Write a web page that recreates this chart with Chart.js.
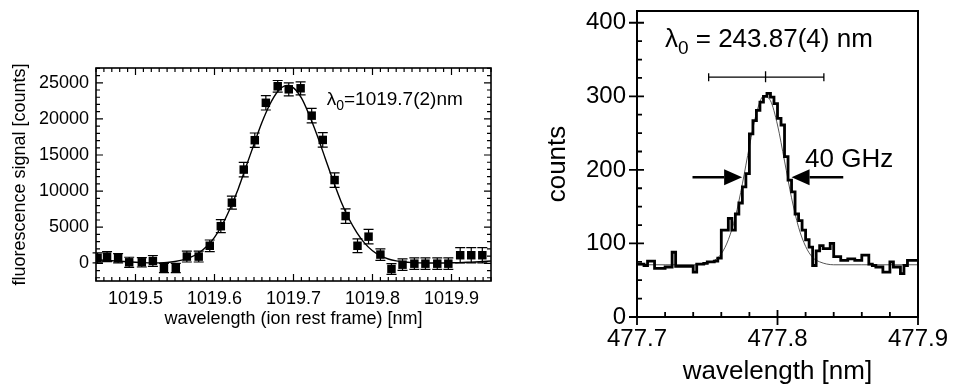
<!DOCTYPE html>
<html>
<head>
<meta charset="utf-8">
<script src="https://cdn.jsdelivr.net/npm/chart.js@4.4.0/dist/chart.umd.min.js"></script>
<style>
  html, body { margin: 0; padding: 0; background: #fff; }
  #wrap { position: relative; width: 955px; height: 390px; overflow: hidden; }
  canvas { position: absolute; top: 0; }
</style>
</head>
<body>
<div id="wrap">
  <canvas id="left" width="520" height="390" style="left:0"></canvas>
  <canvas id="right" width="415" height="390" style="left:540px"></canvas>
</div>
<script>
// ---------- left panel: fluorescence scan ----------
const leftX = [1019.452, 1019.464, 1019.478, 1019.492, 1019.508, 1019.522, 1019.536, 1019.551, 1019.565, 1019.580,
               1019.594, 1019.608, 1019.622, 1019.637, 1019.651, 1019.665, 1019.680, 1019.694, 1019.709, 1019.723,
               1019.737, 1019.752, 1019.766, 1019.781, 1019.795, 1019.810, 1019.824, 1019.838, 1019.853, 1019.867,
               1019.882, 1019.896, 1019.911, 1019.925, 1019.939];
const leftY = [750, 930, 700, 140, 140, 330, -650, -650, 930, 930,
               2430, 5140, 8400, 12980, 17050, 22230, 24520, 24100, 24240, 20450,
               17090, 11530, 6540, 2430, 3690, 1210, -790, -190, -50, -50,
               -50, -50, 1120, 1120, 1120];
const leftErr = [700, 700, 650, 700, 650, 750, 650, 650, 750, 750,
                 800, 900, 900, 1000, 1000, 1000, 800, 900, 900, 1000,
                 1000, 1000, 1000, 950, 1000, 800, 750, 800, 800, 800,
                 800, 800, 1050, 1050, 1050];
const leftFitX = [1019.45, 1019.46, 1019.47, 1019.48, 1019.49, 1019.50, 1019.51, 1019.52, 1019.53, 1019.54,
                  1019.55, 1019.56, 1019.57, 1019.58, 1019.59, 1019.60, 1019.61, 1019.62, 1019.63, 1019.64,
                  1019.65, 1019.66, 1019.67, 1019.68, 1019.69, 1019.70, 1019.71, 1019.72, 1019.73, 1019.74,
                  1019.75, 1019.76, 1019.77, 1019.78, 1019.79, 1019.80, 1019.81, 1019.82, 1019.83, 1019.84,
                  1019.85, 1019.86, 1019.87, 1019.88, 1019.89, 1019.90, 1019.91, 1019.92, 1019.93, 1019.94, 1019.95];
const leftFitY = [500, 430, 360, 290, 220, 150, 90, 50, 60, 110,
                  250, 480, 850, 1430, 2330, 3600, 5370, 7660, 10300, 13400,
                  16500, 19500, 22000, 23800, 24600, 24300, 22900, 20500, 17700, 14600,
                  11500, 8600, 6200, 4300, 2800, 1750, 1050, 600, 330, 180,
                  100, 60, 40, 40, 50, 70, 100, 140, 190, 250, 310];
const leftXTicks = [1019.5, 1019.6, 1019.7, 1019.8, 1019.9];
const leftYTicks = [0, 5000, 10000, 15000, 20000, 25000];

// ---------- right panel: counts histogram ----------
const histStart = 477.70;
const histWidth = 0.0025;
const histCounts = [72, 72, 70, 76, 76, 66, 66, 66, 68, 68,
                    88, 69, 69, 69, 69, 69, 61, 72, 72, 73,
                    75, 75, 76, 80, 118, 118, 134, 118, 140, 155,
                    177, 195, 249, 267, 281, 292, 300, 304, 299, 290,
                    270, 261, 218, 186, 170, 140, 131, 118, 105, 95,
                    70, 90, 97, 93, 93, 100, 82, 82, 77, 77,
                    79, 79, 77, 77, 84, 84, 72, 70, 68, 68,
                    61, 61, 75, 68, 68, 59, 70, 77, 77, 77];
const rightFitX = [477.70, 477.72, 477.74, 477.75, 477.755, 477.76, 477.765, 477.77, 477.775, 477.78,
                   477.785, 477.79, 477.795, 477.80, 477.805, 477.81, 477.815, 477.82, 477.825, 477.83,
                   477.84, 477.86, 477.88, 477.90];
const rightFitY = [71, 71, 71, 73, 77, 86, 105, 136, 181, 232,
                   277, 300, 294, 261, 212, 162, 122, 96, 81, 75,
                   71, 71, 71, 71];
const rightXTicks = [477.7, 477.8, 477.9];
const rightYTicks = [0, 100, 200, 300, 400];
const centroidBar = [477.751, 477.7915, 477.833];   // low, centre, high
const centroidLevel = 326;
const arrowLevel = 190;
const arrowLeft = [477.7395, 477.7748];            // tail, tip
const arrowRight = [477.8468, 477.8100];           // tail, tip

Chart.defaults.color = '#000';
Chart.defaults.animation = false;

function pts(xs, ys) { return xs.map((x, i) => ({x: x, y: ys[i]})); }

// no extra label overhang padding, so chart areas sit where the layout says
function noOverhang(s) {
  s.paddingTop = 0; s.paddingBottom = 0; s.paddingLeft = 0; s.paddingRight = 0;
}

// box + inward ticks on the sides asked for
const frameTicks = {
  id: 'frameTicks',
  afterDatasetsDraw(chart, args, o) {
    const {ctx, chartArea: a, scales: {x, y}} = chart;
    ctx.save();
    ctx.strokeStyle = '#000';
    ctx.lineWidth = o.lineWidth;
    ctx.strokeRect(a.left, a.top, a.right - a.left, a.bottom - a.top);
    ctx.lineWidth = o.tickWidth;
    ctx.beginPath();
    const isMajor = (v, list) => list.some(m => Math.abs(m - v) < 1e-6 * Math.max(1, Math.abs(m)));
    const xTick = (v, inLen, outLen) => {
      const p = x.getPixelForValue(v);
      if (o.xSides.includes('b')) { ctx.moveTo(p, a.bottom + outLen); ctx.lineTo(p, a.bottom - inLen); }
      if (o.xSides.includes('t')) { ctx.moveTo(p, a.top - outLen); ctx.lineTo(p, a.top + inLen); }
    };
    const yTick = (v, inLen, outLen) => {
      const p = y.getPixelForValue(v);
      if (o.ySides.includes('l')) { ctx.moveTo(a.left - outLen, p); ctx.lineTo(a.left + inLen, p); }
      if (o.ySides.includes('r')) { ctx.moveTo(a.right + outLen, p); ctx.lineTo(a.right - inLen, p); }
    };
    o.xMajor.forEach(v => xTick(v, o.majorIn, o.majorOut));
    o.yMajor.forEach(v => yTick(v, o.majorIn, o.majorOut));
    for (let k = Math.ceil(x.min / o.xMinor - 1e-6); k * o.xMinor <= x.max + 1e-9; k++) {
      const v = k * o.xMinor;
      if (!isMajor(v, o.xMajor)) xTick(v, o.minorIn, 0);
    }
    for (let k = Math.ceil(y.min / o.yMinor - 1e-6); k * o.yMinor <= y.max + 1e-9; k++) {
      const v = k * o.yMinor;
      if (!isMajor(v, o.yMajor)) yTick(v, o.minorIn, 0);
    }
    ctx.stroke();
    ctx.restore();
  }
};

// vertical error bars with caps
const errorBars = {
  id: 'errorBars',
  afterDatasetsDraw(chart, args, o) {
    if (!o.errors) return;
    const {ctx, scales: {x, y}} = chart;
    const ds = chart.data.datasets[o.datasetIndex].data;
    ctx.save();
    ctx.strokeStyle = '#000';
    ctx.lineWidth = o.lineWidth;
    ctx.beginPath();
    ds.forEach((p, i) => {
      const px = x.getPixelForValue(p.x);
      const top = y.getPixelForValue(p.y + o.errors[i]);
      const bot = y.getPixelForValue(p.y - o.errors[i]);
      ctx.moveTo(px, top); ctx.lineTo(px, bot);
      ctx.moveTo(px - o.cap, top); ctx.lineTo(px + o.cap, top);
      ctx.moveTo(px - o.cap, bot); ctx.lineTo(px + o.cap, bot);
    });
    ctx.stroke();
    ctx.restore();
  }
};

// lambda_0 labels, centroid bar and FWHM arrows
function drawLambda(ctx, px, py, size, rest, family) {
  ctx.font = size + 'px ' + family;
  ctx.textBaseline = 'alphabetic';
  ctx.textAlign = 'left';
  ctx.fillText('λ', px, py);
  let cx = px + ctx.measureText('λ').width;
  ctx.font = Math.round(size * 0.72) + 'px ' + family;
  ctx.fillText('0', cx, py + size * 0.28);
  cx += ctx.measureText('0').width;
  ctx.font = size + 'px ' + family;
  ctx.fillText(rest, cx, py);
}

const notes = {
  id: 'notes',
  afterDatasetsDraw(chart, args, o) {
    const {ctx, scales: {x, y}} = chart;
    ctx.save();
    ctx.fillStyle = '#000';
    ctx.strokeStyle = '#000';
    (o.lambda || []).forEach(l => {
      drawLambda(ctx, x.getPixelForValue(l.x), y.getPixelForValue(l.y), l.size, l.text, o.family);
    });
    (o.texts || []).forEach(t => {
      ctx.font = t.size + 'px ' + o.family;
      ctx.textAlign = 'left';
      ctx.textBaseline = 'alphabetic';
      ctx.fillText(t.text, x.getPixelForValue(t.x), y.getPixelForValue(t.y));
    });
    if (o.bar) {
      const yy = y.getPixelForValue(o.bar.level);
      const [lo, mid, hi] = o.bar.xs.map(v => x.getPixelForValue(v));
      ctx.lineWidth = 1.3;
      ctx.beginPath();
      ctx.moveTo(lo, yy); ctx.lineTo(hi, yy);
      ctx.moveTo(lo, yy - 4); ctx.lineTo(lo, yy + 4);
      ctx.moveTo(hi, yy - 4); ctx.lineTo(hi, yy + 4);
      ctx.moveTo(mid, yy - 6); ctx.lineTo(mid, yy + 5);
      ctx.stroke();
    }
    (o.arrows || []).forEach(ar => {
      const yy = y.getPixelForValue(ar.level);
      const tail = x.getPixelForValue(ar.xs[0]);
      const tip = x.getPixelForValue(ar.xs[1]);
      const dir = Math.sign(tip - tail);
      const headLen = 18, headHalf = 8;
      ctx.lineWidth = 2.6;
      ctx.beginPath();
      ctx.moveTo(tail, yy); ctx.lineTo(tip - dir * headLen, yy);
      ctx.stroke();
      ctx.beginPath();
      ctx.moveTo(tip, yy);
      ctx.lineTo(tip - dir * headLen, yy - headHalf);
      ctx.lineTo(tip - dir * headLen, yy + headHalf);
      ctx.closePath();
      ctx.fill();
    });
    ctx.restore();
  }
};

const sansL = '"Liberation Sans", Arial, Helvetica, sans-serif';

// ---------- left chart ----------
new Chart(document.getElementById('left'), {
  type: 'scatter',
  data: {
    datasets: [{
      label: 'data',
      data: pts(leftX, leftY),
      pointStyle: 'rect',
      pointRadius: 6,
      pointBackgroundColor: '#000',
      pointBorderColor: '#000',
      pointBorderWidth: 0
    }, {
      label: 'fit',
      data: pts(leftFitX, leftFitY),
      showLine: true,
      pointRadius: 0,
      borderColor: '#000',
      borderWidth: 1.4,
      tension: 0.3
    }]
  },
  options: {
    responsive: false,
    layout: { padding: { left: 0, top: 68, right: 29, bottom: 0 } },
    plugins: {
      legend: { display: false },
      tooltip: { enabled: false },
      frameTicks: { lineWidth: 1.6, tickWidth: 1.2, xSides: 'bt', ySides: 'lr',
                    xMajor: leftXTicks, yMajor: leftYTicks, xMinor: 0.01, yMinor: 1000,
                    majorIn: 7, majorOut: 0, minorIn: 4 },
      errorBars: { datasetIndex: 0, errors: leftErr, cap: 5, lineWidth: 1.2 },
      notes: { family: sansL, lambda: [{ x: 1019.742, y: 21950, size: 19, text: '=1019.7(2)nm' }] }
    },
    scales: {
      x: {
        type: 'linear', min: 1019.45, max: 1019.95,
        afterBuildTicks: s => { s.ticks = leftXTicks.map(v => ({ value: v })); },
        afterFit: s => { s.height = 109; noOverhang(s); },
        grid: { display: false, drawTicks: false },
        border: { display: false },
        ticks: { autoSkip: false, maxRotation: 0, padding: 7, font: { family: sansL, size: 18 },
                 callback: v => Number(v).toFixed(1) },
        title: { display: true, text: 'wavelength (ion rest frame) [nm]', font: { family: sansL, size: 18 },
                 padding: { top: 0, bottom: 60 } }
      },
      y: {
        type: 'linear', min: -2450, max: 27050,
        afterBuildTicks: s => { s.ticks = leftYTicks.map(v => ({ value: v })); },
        afterFit: s => { s.width = 96; noOverhang(s); },
        grid: { display: false, drawTicks: false },
        border: { display: false },
        ticks: { padding: 7, font: { family: sansL, size: 18 }, callback: v => String(v) },
        title: { display: true, text: 'fluorescence signal [counts]', font: { family: sansL, size: 18 },
                 padding: { top: 9, bottom: 0 } }
      }
    }
  },
  plugins: [frameTicks, errorBars, notes]
});

// ---------- right chart ----------
const histPts = histCounts.map((c, i) => ({ x: histStart + i * histWidth, y: c }));
histPts.push({ x: histStart + histCounts.length * histWidth, y: histCounts[histCounts.length - 1] });

new Chart(document.getElementById('right'), {
  type: 'scatter',
  data: {
    datasets: [{
      label: 'counts',
      data: histPts,
      showLine: true,
      stepped: 'before',
      pointRadius: 0,
      borderColor: '#000',
      borderWidth: 2.8
    }, {
      label: 'fit',
      data: pts(rightFitX, rightFitY),
      showLine: true,
      pointRadius: 0,
      borderColor: '#555',
      borderWidth: 1,
      cubicInterpolationMode: 'monotone'
    }]
  },
  options: {
    responsive: false,
    layout: { padding: { left: 0, top: 11, right: 37, bottom: 0 } },
    plugins: {
      legend: { display: false },
      tooltip: { enabled: false },
      frameTicks: { lineWidth: 2, tickWidth: 1.8, xSides: 'b', ySides: 'l',
                    xMajor: rightXTicks, yMajor: rightYTicks, xMinor: 0.02, yMinor: 25,
                    majorIn: 7, majorOut: 8, minorIn: 5 },
      notes: {
        family: sansL,
        lambda: [{ x: 477.7199, y: 367, size: 26, text: ' = 243.87(4) nm' }],
        texts: [{ x: 477.8196, y: 204, size: 26, text: '40 GHz' }],
        bar: { xs: centroidBar, level: centroidLevel },
        arrows: [{ xs: arrowLeft, level: arrowLevel }, { xs: arrowRight, level: arrowLevel }]
      }
    },
    scales: {
      x: {
        type: 'linear', min: 477.7, max: 477.9,
        afterBuildTicks: s => { s.ticks = rightXTicks.map(v => ({ value: v })); },
        afterFit: s => { s.height = 73; noOverhang(s); },
        grid: { display: false, drawTicks: false },
        border: { display: false },
        ticks: { autoSkip: false, maxRotation: 0, padding: 8, font: { family: sansL, size: 24 },
                 callback: v => Number(v).toFixed(1) },
        title: { display: true, text: 'wavelength [nm]', font: { family: sansL, size: 26 },
                 padding: { top: 0, bottom: 3 } }
      },
      y: {
        type: 'linear', min: 0, max: 416,
        afterBuildTicks: s => { s.ticks = rightYTicks.map(v => ({ value: v })); },
        afterFit: s => { s.width = 97; noOverhang(s); },
        grid: { display: false, drawTicks: false },
        border: { display: false },
        ticks: { padding: 11, font: { family: sansL, size: 24 }, callback: v => String(v) },
        title: { display: true, text: 'counts', font: { family: sansL, size: 26 },
                 padding: { top: 2, bottom: 0 } }
      }
    }
  },
  plugins: [frameTicks, notes]
});
</script>
</body>
</html>
